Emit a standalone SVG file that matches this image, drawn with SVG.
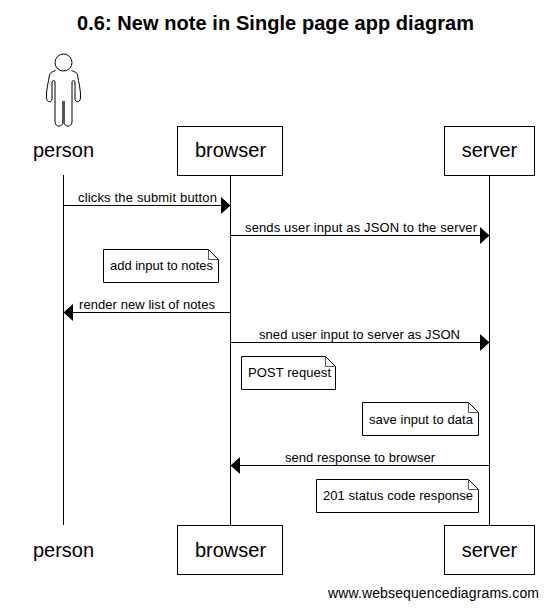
<svg xmlns="http://www.w3.org/2000/svg" width="549" height="608" viewBox="0 0 549 608">
<defs>
<marker id="ah" markerUnits="userSpaceOnUse" markerWidth="10" markerHeight="18" refX="9.500" refY="9" orient="auto-start-reverse"><path d="M0 0.500L9.500 9L0 17.500Z" fill="#000"/></marker>
</defs>
<style>
text{font-family:"Liberation Sans",Arial,sans-serif;fill:#000}
.t{font-size:20px;font-weight:bold}
.p{font-size:20px;text-anchor:middle}
.s{font-size:13px}
.b{fill:#fff;stroke:#000;stroke-width:1}
.l{fill:none;stroke:#000;stroke-width:1}
.a{fill:none;stroke:#000;stroke-width:1;marker-end:url(#ah)}
.f{fill:#fff;stroke:#000;stroke-width:1}
.c{fill:none;stroke:#555;stroke-width:1}
</style>
<rect width="549" height="608" fill="#fff"/>
<text class="t" x="77" y="30" textLength="397">0.6: New note in Single page app diagram</text>
<g id="connectors">
<path class="l" d="M63.500 175V525"/>
<path class="l" d="M230.500 175V525"/>
<path class="l" d="M489.500 175V525"/>
<path class="a" d="M63.500 205.500H230.500"/>
<path class="a" d="M230.500 235.500H489.500"/>
<path class="a" d="M230.500 312.500H63.500"/>
<path class="a" d="M230.500 342.500H489.500"/>
<path class="a" d="M489.500 465.500H230.500"/>
</g>
<g id="labels">
<text class="s" x="78" y="202" textLength="139">clicks the submit button</text>
<text class="s" x="245" y="232" textLength="232">sends user input as JSON to the server</text>
<text class="s" x="79" y="309" textLength="136">render new list of notes</text>
<text class="s" x="259" y="339" textLength="201">sned user input to server as JSON</text>
<text class="s" x="285" y="462" textLength="150">send response to browser</text>
</g>
<g id="person-top">
<circle class="l" cx="63.500" cy="62.500" r="8.500"/>
<path class="l" d="M55.500 70.500C52 72 50 72.500 49.500 75C48.500 82 46 90 46.500 98C47 103 51.500 102.500 52 99L52 81.500L53.500 80.500L55 81.500V122C55.500 127.500 62 127.500 63.500 122C65 127.500 71.500 127.500 72 122V81.500L73.500 80.500L75 81.500V99C75.500 102.500 80 103 80.500 98C81 90 78.500 82 77.500 75C77 72.500 75 72 71.500 70.500"/>
<path d="M63.500 101V123" fill="none" stroke="#555" stroke-width="3"/>
<text class="p" x="63.500" y="157">person</text>
</g>
<g id="browser-top"><rect class="b" x="177.500" y="126.500" width="105" height="49"/><text class="p" x="230.500" y="157">browser</text></g>
<g id="server-top"><rect class="b" x="444.500" y="126.500" width="90" height="49"/><text class="p" x="489.500" y="157">server</text></g>
<g id="person-bottom"><text class="p" x="63.500" y="557">person</text></g>
<g id="browser-bottom"><rect class="b" x="177.500" y="525.500" width="105" height="49"/><text class="p" x="230.500" y="557">browser</text></g>
<g id="server-bottom"><rect class="b" x="444.500" y="525.500" width="90" height="49"/><text class="p" x="489.500" y="557">server</text></g>
<g id="note-add"><path class="f" d="M103.500 249.500H208.500L218.500 259.500V282.500H103.500Z"/><path class="c" d="M208.500 249.500V259.500H218.500"/><text class="s" x="110" y="270" textLength="103">add input to notes</text></g>
<g id="note-post"><path class="f" d="M241.500 356.500H325.500L335.500 366.500V389.500H241.500Z"/><path class="c" d="M325.500 356.500V366.500H335.500"/><text class="s" x="248" y="377" textLength="83">POST request</text></g>
<g id="note-save"><path class="f" d="M362.500 402.500H468.500L478.500 412.500V435.500H362.500Z"/><path class="c" d="M468.500 402.500V412.500H478.500"/><text class="s" x="369" y="424" textLength="104">save input to data</text></g>
<g id="note-201"><path class="f" d="M316.500 479.500H468.500L478.500 489.500V512.500H316.500Z"/><path class="c" d="M468.500 479.500V489.500H478.500"/><text class="s" x="323" y="500" textLength="150">201 status code response</text></g>
<text x="328" y="598" font-size="14" textLength="211">www.websequencediagrams.com</text>
</svg>
